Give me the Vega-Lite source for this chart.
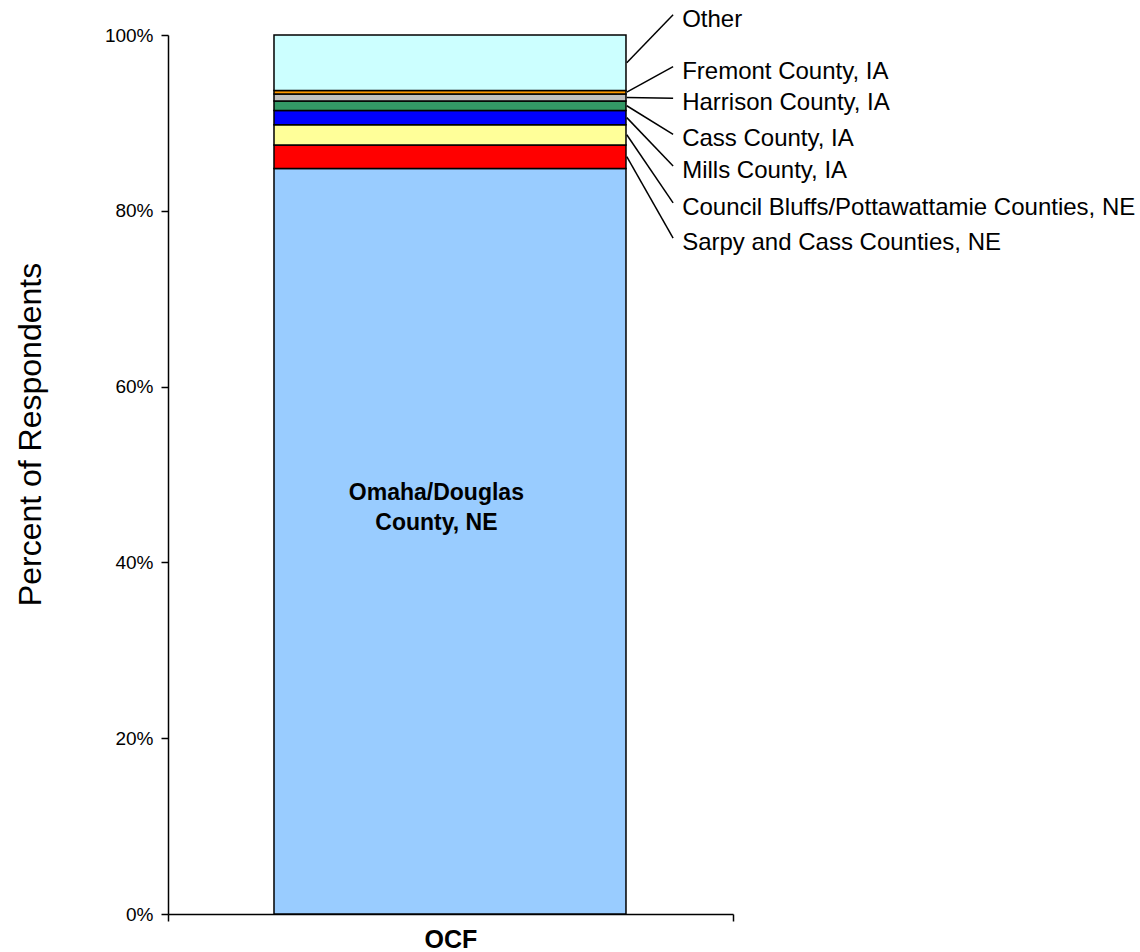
{
  "$schema": "https://vega.github.io/schema/vega-lite/v6.json",
  "width": 565,
  "height": 879,
  "autosize": "none",
  "padding": {"left": 168, "top": 35, "right": 407, "bottom": 38},
  "background": "white",
  "config": {
    "font": "Liberation Sans",
    "view": {"stroke": null},
    "axis": {"grid": false, "domainColor": "black", "tickColor": "black", "labelColor": "black", "titleColor": "black", "domainWidth": 1.5, "tickWidth": 1.5}
  },
  "datasets": {
    "regions": [
      {"region": "Omaha/Douglas County, NE", "share": 0.848, "order": 1, "labelPos": null},
      {"region": "Sarpy and Cass Counties, NE", "share": 0.027, "order": 2, "labelPos": 0.769},
      {"region": "Council Bluffs/Pottawattamie Counties, NE", "share": 0.023, "order": 3, "labelPos": 0.809},
      {"region": "Mills County, IA", "share": 0.016, "order": 4, "labelPos": 0.851},
      {"region": "Cass County, IA", "share": 0.011, "order": 5, "labelPos": 0.887},
      {"region": "Harrison County, IA", "share": 0.008, "order": 6, "labelPos": 0.928},
      {"region": "Fremont County, IA", "share": 0.004, "order": 7, "labelPos": 0.964},
      {"region": "Other", "share": 0.063, "order": 8, "labelPos": 1.023}
    ]
  },
  "layer": [
    {
      "data": {"name": "regions"},
      "transform": [
        {"stack": "share", "groupby": [], "sort": [{"field": "order", "order": "ascending"}], "as": ["lo", "hi"]}
      ],
      "mark": {"type": "rect", "stroke": "black", "strokeWidth": 1.5},
      "encoding": {
        "x": {"datum": 0.1876, "type": "quantitative", "scale": {"domain": [0, 1], "nice": false, "zero": false},
          "axis": {"values": [0, 1], "labels": false, "title": "OCF", "titleFontSize": 25, "titleFontWeight": "bold", "titleY": 33, "titleBaseline": "alphabetic", "tickSize": 7}},
        "x2": {"datum": 0.8106},
        "y": {"field": "lo", "type": "quantitative", "scale": {"domain": [0, 1], "nice": false},
          "axis": {"values": [0, 0.2, 0.4, 0.6, 0.8, 1], "format": ".0%", "labelFontSize": 19, "tickSize": 7, "labelPadding": 8,
            "title": "Percent of Respondents", "titleFontSize": 32, "titleFontWeight": "normal", "titleAngle": -90, "titleX": -128, "titleY": 399, "titleAlign": "center", "titleBaseline": "alphabetic"}},
        "y2": {"field": "hi"},
        "color": {"field": "region", "type": "nominal", "legend": null,
          "scale": {
            "domain": ["Omaha/Douglas County, NE", "Sarpy and Cass Counties, NE", "Council Bluffs/Pottawattamie Counties, NE", "Mills County, IA", "Cass County, IA", "Harrison County, IA", "Fremont County, IA", "Other"],
            "range": ["#99CCFF", "#FF0000", "#FFFF99", "#0000FF", "#339966", "#C0C0C0", "#FF9900", "#CCFFFF"]
          }}
      }
    },
    {
      "data": {"name": "regions"},
      "transform": [
        {"stack": "share", "groupby": [], "sort": [{"field": "order", "order": "ascending"}], "as": ["lo", "hi"]},
        {"filter": "datum.labelPos != null"},
        {"calculate": "(datum.lo + datum.hi) / 2", "as": "mid"}
      ],
      "mark": {"type": "rule", "color": "black", "strokeWidth": 1.5},
      "encoding": {
        "x": {"datum": 0.812, "type": "quantitative"},
        "x2": {"datum": 0.894},
        "y": {"field": "mid", "type": "quantitative"},
        "y2": {"field": "labelPos"}
      }
    },
    {
      "data": {"name": "regions"},
      "transform": [{"filter": "datum.labelPos != null"}],
      "mark": {"type": "text", "align": "left", "baseline": "middle", "dy": 5, "fontSize": 24, "color": "black"},
      "encoding": {
        "x": {"datum": 0.91, "type": "quantitative"},
        "y": {"field": "labelPos", "type": "quantitative"},
        "text": {"field": "region"}
      }
    },
    {
      "data": {"name": "regions"},
      "transform": [{"filter": "datum.order == 1"}],
      "mark": {"type": "text", "align": "center", "baseline": "middle", "fontSize": 23, "fontWeight": "bold", "lineHeight": 30, "color": "black"},
      "encoding": {
        "x": {"datum": 0.475, "type": "quantitative"},
        "y": {"datum": 0.479, "type": "quantitative"},
        "text": {"value": ["Omaha/Douglas", "County, NE"]}
      }
    }
  ]
}
